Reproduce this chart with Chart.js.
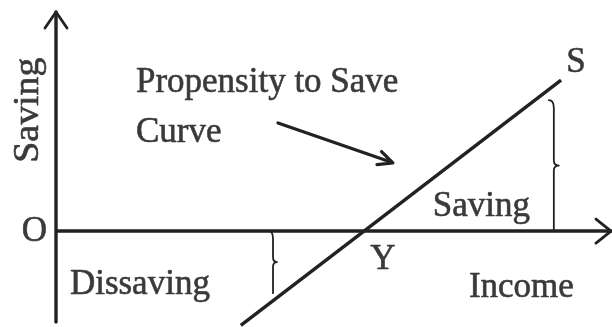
<!DOCTYPE html>
<html lang="en">
<head>
    <meta charset="UTF-8">
    <title>Propensity to Save</title>
    <script src="https://cdn.jsdelivr.net/npm/chart.js"></script>
    <style>
        html, body { margin: 0; padding: 0; background: #fff; }
        #wrap { width: 612px; height: 327px; }
    </style>
</head>
<body>
    <div id="wrap"><canvas id="myChart" width="612" height="327"></canvas></div>

    <script>
        // Saving line S (income on x, saving on y)
        const incomeLevels = [33.3, 55.5, 91];
        const savingLevels = [-17, 0, 27.2];

        // axis range
        const incomeMax = 100;
        const savingRange = [-16.4, 39.5];

        // texts
        const axisTitles = ['Income', 'Saving'];
        const curveTitle = ['Propensity to Save', 'Curve'];
        const markNames = ['O', 'Y', 'S'];
        const areaNames = ['Saving', 'Dissaving'];

        const ink = '#222';
        const textInk = '#3a3a3a';
        const font = '35px "Liberation Serif", "DejaVu Serif", serif';

        const points = incomeLevels.map((x, i) => ({ x: x, y: savingLevels[i] }));

        // brace "}" drawn vertically between two pixel y values
        const drawBrace = (ctx, px, y1, y2, bump) => {
            const mid = (y1 + y2) / 2;
            const d = Math.sign(y2 - y1);
            ctx.beginPath();
            ctx.moveTo(px - bump, y1);
            ctx.quadraticCurveTo(px, y1, px, y1 + d * 8);
            ctx.lineTo(px, mid - d * 5);
            ctx.quadraticCurveTo(px, mid, px + bump, mid);
            ctx.quadraticCurveTo(px, mid, px, mid + d * 5);
            ctx.lineTo(px, y2);
            ctx.stroke();
        };

        const sketchPlugin = {
            id: 'sketch',
            beforeDatasetsDraw(chart) {
                const ctx = chart.ctx;
                const xs = chart.scales.x;
                const ys = chart.scales.y;
                const x0 = xs.getPixelForValue(0);
                const y0 = ys.getPixelForValue(0);
                const xEnd = xs.getPixelForValue(incomeMax);
                const yTop = ys.getPixelForValue(savingRange[1]);
                const yBot = ys.getPixelForValue(savingRange[0]);

                ctx.save();
                ctx.strokeStyle = ink;
                ctx.lineWidth = 3.4;
                ctx.lineCap = 'round';
                ctx.lineJoin = 'round';

                // axes
                ctx.beginPath();
                ctx.moveTo(x0, yBot);
                ctx.lineTo(x0, yTop);
                ctx.moveTo(x0, y0);
                ctx.lineTo(xEnd, y0);
                ctx.stroke();

                // arrow heads
                ctx.lineWidth = 2.8;
                ctx.beginPath();
                ctx.moveTo(x0 - 11, yTop + 16);
                ctx.lineTo(x0, yTop);
                ctx.lineTo(x0 + 11, yTop + 16);
                ctx.moveTo(xEnd - 15, y0 - 12);
                ctx.lineTo(xEnd, y0);
                ctx.lineTo(xEnd - 15, y0 + 12);
                ctx.stroke();

                // braces
                ctx.lineWidth = 1.8;
                drawBrace(ctx, xs.getPixelForValue(89.7), ys.getPixelForValue(23.6), y0, 5);
                drawBrace(ctx, xs.getPixelForValue(39.1), y0, ys.getPixelForValue(-11.2), 4);

                // pointer arrow
                const ax1 = xs.getPixelForValue(40), ay1 = ys.getPixelForValue(19.5);
                const ax2 = xs.getPixelForValue(60.7), ay2 = ys.getPixelForValue(12.3);
                const ang = Math.atan2(ay2 - ay1, ax2 - ax1);
                ctx.lineWidth = 3.2;
                ctx.beginPath();
                ctx.moveTo(ax1, ay1);
                ctx.lineTo(ax2, ay2);
                ctx.moveTo(ax2 - 16 * Math.cos(ang - 0.45), ay2 - 16 * Math.sin(ang - 0.45));
                ctx.lineTo(ax2, ay2);
                ctx.lineTo(ax2 - 16 * Math.cos(ang + 0.45), ay2 - 16 * Math.sin(ang + 0.45));
                ctx.stroke();

                // texts, with a thin outline to match the heavier print
                ctx.fillStyle = textInk;
                ctx.strokeStyle = textInk;
                ctx.lineWidth = 0.6;
                ctx.font = font;
                ctx.textBaseline = 'middle';
                const put = (txt, px, py, align) => {
                    ctx.textAlign = align;
                    ctx.fillText(txt, px, py);
                    ctx.strokeText(txt, px, py);
                };
                const at = (txt, vx, vy, align) => put(txt, xs.getPixelForValue(vx), ys.getPixelForValue(vy), align);

                put(markNames[0], x0 - 9, y0 + 1, 'right');
                at(curveTitle[0], 14.4, 26.7, 'left');
                at(curveTitle[1], 14.4, 17.7, 'left');
                at(markNames[2], 93.7, 30.3, 'center');
                at(markNames[1], 58.9, -5.2, 'center');
                at(areaNames[0], 67.9, 4.3, 'left');
                at(areaNames[1], 2.5, -9.7, 'left');
                at(axisTitles[0], 74.4, -10.3, 'left');

                ctx.save();
                ctx.translate(x0 - 27, ys.getPixelForValue(21.8));
                ctx.rotate(-Math.PI / 2);
                ctx.scale(1.08, 1);
                put(axisTitles[1], 0, 0, 'center');
                ctx.restore();

                ctx.restore();
            }
        };

        new Chart(document.getElementById('myChart'), {
            type: 'scatter',
            data: {
                datasets: [{
                    label: 'S',
                    data: points,
                    showLine: true,
                    borderColor: ink,
                    borderWidth: 3.4,
                    pointRadius: 0,
                    clip: false
                }]
            },
            options: {
                responsive: false,
                animation: false,
                layout: { padding: { left: 56, right: 1, top: 12, bottom: 5 } },
                plugins: {
                    legend: { display: false },
                    tooltip: { enabled: false }
                },
                scales: {
                    x: { type: 'linear', min: 0, max: incomeMax, display: false },
                    y: { type: 'linear', min: savingRange[0], max: savingRange[1], display: false }
                }
            },
            plugins: [sketchPlugin]
        });
    </script>
</body>
</html>
